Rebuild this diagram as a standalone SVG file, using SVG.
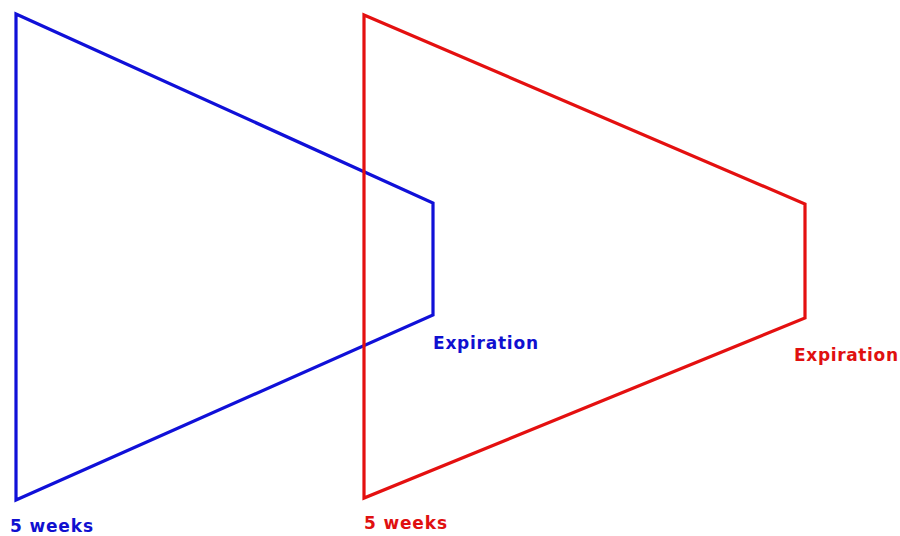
<svg xmlns="http://www.w3.org/2000/svg" width="900" height="536" viewBox="0 0 900 536">
<style>
.shape{fill:none;stroke-width:3.2;stroke-linejoin:miter}
.lbl{font-family:"DejaVu Sans",Verdana,sans-serif;font-weight:bold;font-size:17px}
.b{stroke:#1010d8}
.r{stroke:#e41010}
.tb{fill:#1010d0}
.tr{fill:#e01010}
</style>
<rect width="900" height="536" fill="#ffffff"/>
<g id="blue-trapezoid">
<polygon class="shape b" points="16,14 433,203 433,315 16,500"/>
</g>
<g id="red-trapezoid">
<polygon class="shape r" points="364,15 805,204 805,318 364,498"/>
</g>
<g id="labels">
<text class="lbl tb" x="10" y="532" textLength="83" lengthAdjust="spacing">5 weeks</text>
<text class="lbl tr" x="364" y="529" textLength="83" lengthAdjust="spacing">5 weeks</text>
<text class="lbl tb" x="433" y="349" textLength="105" lengthAdjust="spacing">Expiration</text>
<text class="lbl tr" x="794" y="361" textLength="104" lengthAdjust="spacing">Expiration</text>
</g>
</svg>
